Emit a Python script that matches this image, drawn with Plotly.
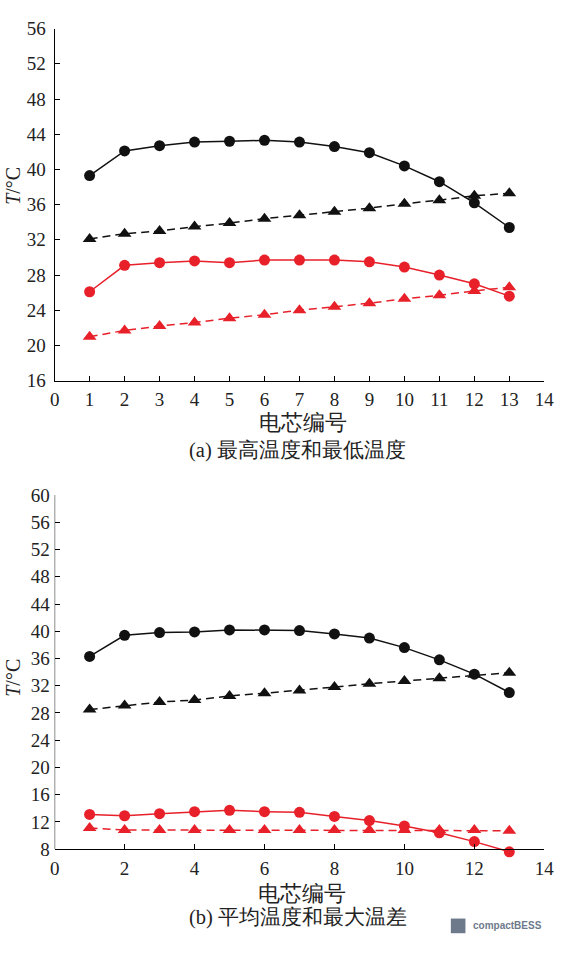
import plotly.graph_objects as go

cells = list(range(1, 14))

# (a) max / min temperature
a_max_high = [39.3, 42.1, 42.7, 43.1, 43.2, 43.3, 43.1, 42.6, 41.9, 40.4, 38.6, 36.2, 33.4]
a_max_low = [32.1, 32.7, 33.0, 33.5, 33.9, 34.4, 34.8, 35.2, 35.6, 36.1, 36.5, 37.0, 37.3]
a_min_high = [26.1, 29.1, 29.4, 29.6, 29.4, 29.7, 29.7, 29.7, 29.5, 28.9, 28.0, 27.0, 25.6]
a_min_low = [21.0, 21.7, 22.2, 22.6, 23.1, 23.5, 24.0, 24.4, 24.8, 25.3, 25.7, 26.2, 26.6]

# (b) average temperature / max temperature difference
b_avg_high = [36.3, 39.4, 39.8, 39.9, 40.2, 40.2, 40.1, 39.6, 39.0, 37.6, 35.8, 33.7, 31.0]
b_avg_low = [28.5, 29.1, 29.6, 29.9, 30.5, 30.9, 31.3, 31.8, 32.3, 32.7, 33.1, 33.6, 33.9]
b_diff_high = [13.1, 12.9, 13.2, 13.5, 13.7, 13.5, 13.4, 12.8, 12.2, 11.4, 10.4, 9.1, 7.6]
b_diff_low = [11.1, 10.8, 10.8, 10.8, 10.8, 10.8, 10.8, 10.8, 10.8, 10.8, 10.8, 10.8, 10.7]

a_yticks = list(range(16, 57, 4))
b_yticks = list(range(8, 61, 4))

BLACK = "#111111"
RED = "#e8202a"
W, H = 565, 954
FONT = "Times New Roman"

fig = go.Figure()

def add(x, y, color, symbol, dash, xa, ya):
    fig.add_trace(go.Scatter(
        x=x, y=y, mode="lines+markers", xaxis=xa, yaxis=ya,
        line=dict(color=color, width=1.5, dash=dash),
        marker=dict(symbol=symbol, size=11 if symbol == "circle" else 12, color=color),
        cliponaxis=False, showlegend=False))

DASH = "8px,5px"
add(cells, a_max_high, BLACK, "circle", "solid", "x", "y")
add(cells, a_max_low, BLACK, "triangle-up", DASH, "x", "y")
add(cells, a_min_high, RED, "circle", "solid", "x", "y")
add(cells, a_min_low, RED, "triangle-up", DASH, "x", "y")

add(cells, b_avg_high, BLACK, "circle", "solid", "x2", "y2")
add(cells, b_avg_low, BLACK, "triangle-up", DASH, "x2", "y2")
add(cells, b_diff_high, RED, "circle", "solid", "x2", "y2")
add(cells, b_diff_low, RED, "triangle-up", DASH, "x2", "y2")

xdom = [51 / W, 554 / W]
ydom_a = [1 - 379 / H, 1 - 19 / H]
b_lo = 7.0
pxu = (858 - 496) / (60 - 8)
ydom_b = [1 - (858 + (8 - b_lo) * pxu) / H, 1 - 496 / H]

axis_common = dict(showgrid=False, zeroline=False, ticks="inside", ticklen=5, tickcolor="black",
                   tickfont=dict(family=FONT, size=19, color="#222"), mirror=False)

fig.update_layout(
    width=W, height=H, margin=dict(l=0, r=0, t=0, b=0),
    paper_bgcolor="white", plot_bgcolor="white",
    font=dict(family=FONT),
    xaxis=dict(domain=xdom, range=[0, 14], dtick=1, tick0=0, anchor="y",
               showline=True, linecolor="black", linewidth=1, ticklabelstandoff=2, **axis_common),
    yaxis=dict(domain=ydom_a, range=[16, 56], tickvals=a_yticks, anchor="x",
               showline=True, linecolor="black", linewidth=1, ticklabelstandoff=4, **axis_common),
    xaxis2=dict(domain=xdom, range=[0, 14], dtick=2, tick0=0, anchor="free",
                position=1 - 858 / H, ticklabelstandoff=2,
                showline=True, linecolor="black", linewidth=1, **axis_common),
    yaxis2=dict(domain=ydom_b, range=[b_lo, 60], tickvals=b_yticks, anchor="x2",
                showline=False, ticklabelstandoff=4, **axis_common),
)

fig.add_shape(type="line", xref="x2", yref="y2", x0=0, x1=0, y0=8, y1=60,
              line=dict(color="black", width=1))

def ann(text, xpx, ypx, size=19, angle=0, xanchor="center", family=FONT, color="#222"):
    fig.add_annotation(text=text, x=xpx / W, y=1 - ypx / H, xref="paper", yref="paper",
                       showarrow=False, textangle=angle, xanchor=xanchor, yanchor="middle",
                       font=dict(family=family, size=size, color=color))

ann("<i>T</i>/°C", 8, 180, size=20, angle=-90)
ann("<i>T</i>/°C", 8, 683, size=20, angle=-90)
ann("电芯编号", 306, 422, size=22)
ann("(a) 最高温度和最低温度", 300, 450, size=20.5)
ann("电芯编号", 305, 903, size=22)
ann("(b) 平均温度和最大温差", 301, 928, size=20.5)

fig.add_shape(type="rect", xref="paper", yref="paper",
              x0=458 / W, x1=473 / W, y0=1 - 944 / H, y1=1 - 929 / H,
              fillcolor="#6d7a8c", line=dict(width=0))
ann("<b>compactBESS</b>", 479, 936, size=10, xanchor="left",
    family="Liberation Sans", color="#6d7a8c")

fig.write_html("out.html")
